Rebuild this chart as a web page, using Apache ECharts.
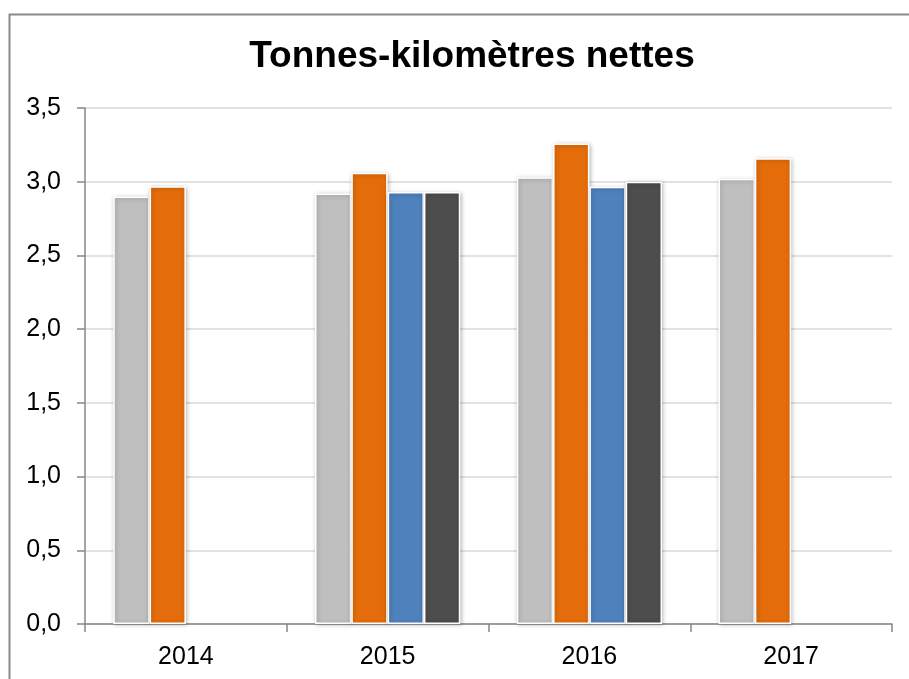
<!DOCTYPE html>
<html>
<head>
<meta charset="utf-8">
<script src="https://cdn.jsdelivr.net/npm/echarts@6/dist/echarts.min.js"></script>
<style>
html,body{margin:0;padding:0;background:#fff;}
#chart{width:909px;height:679px;}
</style>
</head>
<body>
<div id="chart"></div>
<script>
const titleText = "Tonnes-kilomètres nettes";
const categories = ["2014", "2015", "2016", "2017"];
const series1 = [2.90, 2.92, 3.03, 3.02];
const series2 = [2.97, 3.06, 3.26, 3.16];
const series3 = [null, 2.93, 2.965, null];
const series4 = [null, 2.93, 3.00, null];
const seriesNames = ["Série 1", "Série 2", "Série 3", "Série 4"];
const seriesColors = ["#BFBFBF", "#E46C0A", "#4F81BD", "#4D4D4D"];

const chart = echarts.init(document.getElementById('chart'));
const font = "'Liberation Sans', Arial, sans-serif";
const dataSets = [series1, series2, series3, series4];

const option = {
  animation: false,
  backgroundColor: '#fff',
  title: {
    text: titleText,
    left: 467, top: 33, textAlign: 'center',
    textStyle: { fontFamily: font, fontSize: 37, fontWeight: 'bold', color: '#000' }
  },
  graphic: [{
    type: 'rect', left: 7, top: 12,
    shape: { width: 1000, height: 1000 },
    style: { fill: 'none', stroke: '#898989', lineWidth: 2 },
    silent: true
  }],
  grid: { left: 85, right: 17, top: 108, bottom: 55 },
  xAxis: {
    type: 'category',
    data: categories,
    axisLine: { lineStyle: { color: '#868686', width: 1.5 } },
    axisTick: { show: true, length: 8, lineStyle: { color: '#868686', width: 1.5 } },
    axisLabel: { fontFamily: font, fontSize: 25, color: '#000', margin: 21 }
  },
  yAxis: {
    type: 'value', min: 0, max: 3.5, interval: 0.5,
    axisLine: { show: true, lineStyle: { color: '#868686', width: 1.5 } },
    axisTick: { show: true, length: 8, lineStyle: { color: '#868686', width: 1.5 } },
    splitLine: { lineStyle: { color: '#D9D9D9', width: 1.5 } },
    axisLabel: {
      fontFamily: font, fontSize: 25, color: '#000', margin: 24,
      formatter: v => v.toFixed(1).replace('.', ',')
    }
  },
  series: dataSets.map((d, i) => ({
    type: 'bar',
    name: seriesNames[i],
    data: d,
    barGap: '0%',
    barCategoryGap: '28%',
    itemStyle: {
      color: seriesColors[i],
      borderColor: '#fff', borderWidth: 1.5,
      shadowColor: 'rgba(0,0,0,0.25)', shadowBlur: 4, shadowOffsetX: 1, shadowOffsetY: 1
    }
  }))
};
chart.setOption(option);
</script>
</body>
</html>
